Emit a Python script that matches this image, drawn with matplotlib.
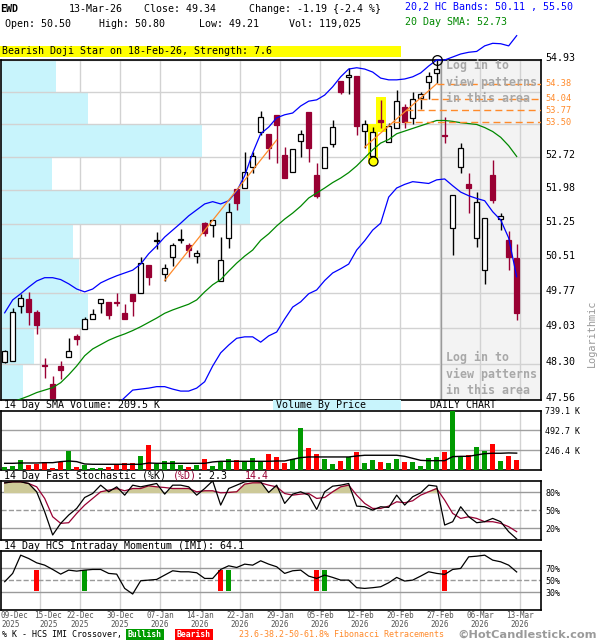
import numpy as np
import matplotlib
matplotlib.use("Agg")
import matplotlib.pyplot as plt
from matplotlib.patches import Rectangle
from matplotlib.ticker import NullLocator
from matplotlib.transforms import blended_transform_factory, ScaledTranslation

plt.rcParams['font.family'] = ['DejaVu Sans Mono', 'DejaVu Sans']

# ---------------- data ----------------
opens = [48.33, 48.36, 49.50, 49.65, 49.36, 48.27, 47.88, 48.25, 48.44, 48.87,
         49.01, 49.22, 49.56, 49.58, 49.57, 49.35, 49.75, 49.76, 50.36, 50.88,
         50.16, 50.54, 50.89, 50.79, 50.56, 51.26, 51.22, 50.01, 50.93, 52.00,
         52.02, 52.49, 53.27, 53.24, 53.67, 52.76, 52.39, 53.08, 53.74, 52.32,
         52.47, 53.00, 54.45, 54.53, 54.55, 53.30, 52.75, 53.55, 53.05, 53.38,
         53.85, 53.59, 54.05, 54.43, 54.62, 53.21, 51.16, 52.49, 52.12, 50.93,
         50.26, 52.32, 51.35, 50.90, 50.50]
highs = [48.58, 49.45, 49.74, 49.79, 49.41, 48.41, 48.05, 48.36, 48.82, 48.90,
         49.27, 49.43, 49.65, 49.58, 49.77, 49.53, 49.75, 50.54, 50.36, 51.06,
         50.38, 50.83, 51.14, 50.83, 50.68, 51.29, 51.33, 50.97, 51.70, 52.00,
         52.84, 52.84, 53.76, 53.24, 53.67, 52.95, 52.90, 53.33, 53.74, 52.58,
         52.94, 53.55, 54.45, 54.75, 54.55, 53.55, 53.40, 54.01, 53.48, 54.24,
         53.92, 54.19, 54.20, 54.66, 54.93, 53.63, 51.87, 53.03, 52.36, 51.95,
         51.37, 52.65, 51.48, 51.08, 50.80]
lows = [48.31, 48.35, 49.35, 49.10, 48.90, 48.00, 47.60, 47.98, 48.44, 48.68,
        49.01, 49.22, 49.35, 49.22, 49.50, 49.22, 49.29, 49.76, 49.94, 50.70,
        50.03, 50.33, 50.83, 50.53, 50.40, 50.98, 50.96, 50.01, 50.72, 51.55,
        52.02, 52.36, 53.21, 52.68, 52.59, 52.26, 52.39, 52.71, 52.61, 51.80,
        52.47, 52.94, 54.14, 54.14, 53.21, 52.91, 52.62, 53.36, 53.05, 53.38,
        53.37, 53.46, 53.79, 54.04, 54.39, 53.03, 50.57, 52.37, 51.48, 50.75,
        49.95, 51.70, 51.12, 50.26, 49.21]
closes = [48.56, 49.36, 49.67, 49.37, 49.10, 48.24, 47.61, 48.17, 48.56, 48.80,
          49.22, 49.33, 49.65, 49.31, 49.55, 49.22, 49.60, 50.40, 50.11, 50.89,
          50.29, 50.79, 50.91, 50.68, 50.61, 51.05, 51.32, 50.47, 51.51, 51.70,
          52.38, 52.73, 53.63, 52.93, 53.44, 52.26, 52.90, 53.23, 52.93, 51.86,
          52.94, 53.39, 54.18, 54.58, 53.42, 53.46, 53.29, 53.50, 53.41, 53.99,
          53.51, 54.03, 54.15, 54.57, 54.72, 53.18, 51.87, 52.93, 52.04, 51.73,
          51.37, 51.76, 51.42, 50.53, 49.34]

upper_band = [49.35, 49.62, 49.75, 49.89, 50.02, 50.09, 50.09, 50.05, 49.96, 49.85,
              49.79, 49.85, 49.98, 50.06, 50.13, 50.19, 50.25, 50.38, 50.60, 50.77,
              50.96, 51.11, 51.26, 51.42, 51.55, 51.68, 51.73, 51.68, 51.75, 51.96,
              52.30, 52.81, 53.24, 53.39, 53.60, 53.67, 53.71, 53.87, 53.98, 54.01,
              54.12, 54.31, 54.54, 54.72, 54.75, 54.72, 54.65, 54.51, 54.47, 54.47,
              54.49, 54.54, 54.63, 54.79, 54.93, 54.93, 55.00, 55.07, 55.11, 55.13,
              55.26, 55.32, 55.31, 55.26, 55.50]
lower_start = 14
lower_band = [47.45, 47.61, 47.76, 47.78, 47.80, 47.83, 47.83, 47.78, 47.74, 47.74,
              47.80, 47.93, 48.25, 48.52, 48.68, 48.82, 48.85, 48.85, 48.74, 48.87,
              48.95, 49.22, 49.47, 49.58, 49.75, 49.83, 50.03, 50.19, 50.28, 50.38,
              50.68, 50.88, 51.11, 51.26, 51.83, 52.03, 52.11, 52.17, 52.15, 52.13,
              52.21, 52.23, 52.08, 51.94, 51.86, 51.80, 51.75, 51.51, 51.33, 50.94,
              50.11]
sma20 = [47.46, 47.52, 47.58, 47.64, 47.71, 47.76, 47.81, 47.91, 48.07, 48.25,
         48.46, 48.60, 48.69, 48.78, 48.85, 48.91, 48.98, 49.06, 49.15, 49.24,
         49.34, 49.41, 49.47, 49.53, 49.62, 49.79, 49.94, 50.05, 50.23, 50.40,
         50.55, 50.68, 50.89, 51.03, 51.20, 51.35, 51.48, 51.63, 51.81, 51.92,
         52.03, 52.15, 52.25, 52.37, 52.52, 52.70, 52.88, 53.03, 53.11, 53.24,
         53.30, 53.36, 53.42, 53.48, 53.54, 53.54, 53.52, 53.49, 53.47, 53.45,
         53.38, 53.29, 53.16, 52.97, 52.73]

# volume in thousands
volumes = [37, 54, 125, 62, 75, 95, 29, 95, 237, 42,
           62, 29, 29, 42, 71, 91, 91, 174, 311, 75,
           112, 112, 62, 42, 62, 137, 50, 104, 137, 125,
           104, 154, 112, 199, 166, 91, 137, 527, 278, 199,
           137, 75, 112, 166, 224, 87, 125, 100, 87, 137,
           100, 100, 50, 154, 158, 224, 739, 166, 187, 286,
           237, 324, 112, 174, 119]
vol_sma = [83, 83, 87, 87, 87, 91, 91, 104, 112, 104,
           75, 71, 71, 71, 71, 71, 71, 71, 87, 83,
           83, 83, 83, 83, 83, 83, 100, 108, 108, 108,
           108, 108, 108, 108, 112, 112, 133, 154, 162, 162,
           162, 162, 162, 162, 174, 183, 183, 183, 183, 183,
           170, 145, 120, 116, 116, 116, 166, 170, 170, 187,
           203, 208, 208, 212, 209.5]

stoch_k = [96, 97.8, 97.8, 95, 81, 47.8, 8.9, 28.3, 42.2, 53.3,
           71.6, 78.3, 92.2, 81.1, 89.4, 75.5, 92.2, 89.4, 92.2, 95,
           77.2, 92.2, 92.2, 89.4, 75.5, 86.6, 99.4, 58.9, 86.6, 92.2,
           97.8, 99.4, 97.8, 80, 92.2, 61.7, 77.2, 81.1, 75.5, 51.6,
           81.1, 90.5, 92.2, 95, 57.2, 56.1, 50.5, 56.1, 55, 75.5,
           58.9, 72.8, 79.4, 92.2, 90.5, 25.5, 31.1, 56.1, 39.4, 29.4,
           31.1, 36.6, 31.1, 14.4, 2.3]
stoch_d = [96, 97.8, 97.8, 95, 89.4, 70, 39.4, 28.3, 29.4, 45,
           58.9, 70, 81.1, 83.9, 86.6, 82.8, 86.6, 86.6, 91.1, 89.4,
           88.3, 86.6, 86.6, 86.6, 81.1, 82.8, 82.8, 79.4, 80, 81.1,
           93.9, 96.1, 96.1, 92.2, 89.4, 78.3, 75.5, 77.2, 78.3, 70,
           71.6, 81.1, 89.4, 92.2, 75.5, 61.7, 53.3, 53.3, 57.2, 64.4,
           62.8, 66.1, 75.5, 81.1, 86.6, 67.2, 45, 36.6, 39.4, 36.6,
           31.1, 31.1, 28.3, 22.8, 14.4]
imi = [47.8, 61.7, 92.2, 86.6, 79.4, 75.5, 68.3, 60.5, 67.2, 65.5,
       67.2, 68.3, 68.3, 61.7, 60.5, 36.6, 27.2, 49.4, 50.5, 51.6,
       58.9, 66.1, 64.4, 64.4, 62.8, 53.3, 53.3, 68.3, 74.4, 71.6,
       77.2, 75.5, 82.8, 77.2, 72.8, 61.7, 66.1, 67.2, 57.2, 53.3,
       58.9, 55, 50.5, 50.5, 37.8, 36.6, 37.8, 39.4, 46.1, 55,
       48.9, 50.5, 57.2, 64.4, 61.7, 60, 68.3, 70, 89.4, 90.5,
       92.2, 83.9, 81.1, 75.5, 64.1]
cross_bear = [4, 27, 39, 55]
cross_bull = [10, 28, 40]

price_ticks = [47.56, 48.30, 49.03, 49.77, 50.51, 51.25, 51.98, 52.72, 53.46, 54.19, 54.93]
price_labels = ['47.56', '48.30', '49.03', '49.77', '50.51', '51.25', '51.98', '52.72', '', '', '54.93']
# volume by price per bin (bottom bin first), thousands
vbp = [22, 33, 87, 78, 72, 249, 51, 201, 87, 55]

fib_levels = [54.38, 54.04, 53.77, 53.50]
trend_lines = [((20, 50.03), (34, 53.10)), ((45, 52.94), (54, 54.38))]
pattern_idx = [46, 47]
swing_low = 46
swing_high = 54

tick_idx = [0, 4, 9, 14, 19, 24, 29, 34, 39, 44, 49, 54, 59, 64]
tick_day = ['09-Dec', '15-Dec', '22-Dec', '30-Dec', '07-Jan', '14-Jan', '22-Jan',
            '29-Jan', '05-Feb', '12-Feb', '20-Feb', '27-Feb', '06-Mar', '13-Mar']
tick_year = ['2025'] * 4 + ['2026'] * 10

# ---------------- layout ----------------
W, H = 600, 640
fig = plt.figure(figsize=(W / 100, H / 100), dpi=100)

def rect(l, t, r, b):
    return [l / W, 1 - b / H, (r - l) / W, (b - t) / H]

def ftext(px, py, s, **kw):
    kw.setdefault('va', 'center')
    kw.setdefault('fontsize', 7.2)
    return fig.text(px / W, 1 - py / H, s, **kw)

n = len(closes)
x = np.arange(n)
o, h, l, c = map(np.array, (opens, highs, lows, closes))
up = c >= o
XL = (-0.46, 67.04)
grid_x = [i + 0.41 for i in tick_idx[1:]]
GRID = '#d2d2d2'
BEAR = '#990033'
ORANGE = '#ff8a2a'

def base(ax):
    ax.set_xlim(*XL)
    for gx in grid_x:
        ax.axvline(gx, color=GRID, lw=1, zorder=1)
    for s in ax.spines.values():
        s.set_linewidth(1.2)
    ax.tick_params(axis='x', bottom=False, labelbottom=False)
    ax.yaxis.tick_right()
    ax.tick_params(axis='y', length=0, pad=3)

# ---------------- main price panel ----------------
ax = fig.add_axes(rect(1, 60, 541, 400))
ax.set_yscale('log')
ax.set_ylim(price_ticks[0], price_ticks[-1])
base(ax)
ax.axvspan(54.5, XL[1], color='#f3f3f3', zorder=0)
ax.axvline(54.5, color='#9a9a9a', lw=1, zorder=2.1)

trans = blended_transform_factory(ax.transAxes, ax.transData)
vmax = max(vbp)
for lo, hi, v in zip(price_ticks[:-1], price_ticks[1:], vbp):
    ax.add_patch(Rectangle((0, lo), v / vmax * 0.461, hi - lo, transform=trans,
                           facecolor='#c8f4fc', edgecolor='none', zorder=1.5))
for p in price_ticks:
    ax.axhline(p, color=GRID, lw=1, zorder=2)

ax.set_yticks(price_ticks)
ax.set_yticklabels(price_labels, fontsize=7.2)
ax.yaxis.set_minor_locator(NullLocator())
for lab in ax.get_yticklabels():
    lab.set_transform(lab.get_transform() + ScaledTranslation(0, 3 / 100, fig.dpi_scale_trans))

# pattern highlight
for i in pattern_idx:
    ax.add_patch(Rectangle((i - 0.62, l[i] * 0.9987), 1.24, h[i] * 1.0013 - l[i] * 0.9987,
                           facecolor='#ffff00', edgecolor='none', zorder=2.5))

# candles
ax.vlines(x[up], l[up], h[up], color='black', lw=1, zorder=3)
ax.vlines(x[~up], l[~up], h[~up], color=BEAR, lw=1, zorder=3)
blo, bhi = np.minimum(o, c), np.maximum(o, c)
ax.bar(x[up], bhi[up] - blo[up], bottom=blo[up], width=0.7, facecolor='white',
       edgecolor='black', lw=0.9, zorder=4)
ax.bar(x[~up], bhi[~up] - blo[~up], bottom=blo[~up], width=0.7, facecolor=BEAR,
       edgecolor=BEAR, lw=0.9, zorder=4)

# bands
ax.plot(x, sma20, color='#008800', lw=0.9, zorder=5)
ax.plot(x[lower_start:], lower_band, color='#0000ff', lw=0.9, zorder=5)
ax.plot(x, upper_band, color='#0000ff', lw=0.9, zorder=5, clip_on=False)

# trend lines and fibonacci levels
for (x0, p0), (x1, p1) in trend_lines:
    ax.plot([x0, x1], [p0, p1], color=ORANGE, lw=0.9, zorder=5.5)
(x0, p0), (x1, p1) = trend_lines[-1]
for lvl in fib_levels:
    t = (np.log(lvl) - np.log(p0)) / (np.log(p1) - np.log(p0))
    xs = x0 + t * (x1 - x0)
    ax.plot([xs, XL[1]], [lvl, lvl], color=ORANGE, lw=1, ls=(0, (5, 3)), zorder=5.5)
    ax.annotate(f'{lvl:.2f}', xy=(1, lvl), xycoords=trans, xytext=(3, 0),
                textcoords='offset points', va='center', ha='left', color=ORANGE,
                fontsize=6.2, annotation_clip=False)

ax.plot(swing_low, l[swing_low], 'o', ms=6.5, mfc='#ffff00', mec='black', mew=0.9, zorder=6)
ax.plot(swing_high, h[swing_high], 'o', ms=7, mfc='none', mec='black', mew=0.9, zorder=6,
        clip_on=False)

ftext(446, 82, 'Log in to\nview patterns\nin this area', fontsize=8.4, weight='bold',
      color='#a8a8a8', linespacing=1.3)
ftext(446, 374, 'Log in to\nview patterns\nin this area', fontsize=8.4, weight='bold',
      color='#a8a8a8', linespacing=1.3)
ftext(592, 333, 'Logarithmic', rotation=90, color='#999999', fontsize=7.4, ha='center')

# ---------------- volume panel ----------------
axv = fig.add_axes(rect(1, 410.5, 541, 470))
axv.set_ylim(0, 739.1)
base(axv)
for v in (246.4, 492.7):
    axv.axhline(v, color='#a0a0a0', lw=1, zorder=1)
vcol = ['#009a00' if u else '#ff0000' for u in up]
axv.bar(x, volumes, width=0.7, color=vcol, zorder=3)
axv.plot(x, vol_sma, color='black', lw=1, zorder=4)
axv.set_yticks([246.4, 492.7, 739.1])
axv.set_yticklabels(['246.4 K', '492.7 K', '739.1 K'], fontsize=6)

# ---------------- stochastic panel ----------------
axs = fig.add_axes(rect(1, 480.5, 541, 540.3))
axs.set_ylim(0, 100)
base(axs)
for v, ls in ((80, '-'), (50, '--'), (20, '-')):
    axs.axhline(v, color='#9a9a9a', lw=1, ls=ls, zorder=1)
kk, dd = np.array(stoch_k), np.array(stoch_d)
mn = np.minimum(kk, dd)
axs.fill_between(x, 80, mn, where=mn > 80, interpolate=True, color='#cdc998', zorder=2)
axs.plot(x, stoch_d, color=BEAR, lw=0.9, zorder=3)
axs.plot(x, stoch_k, color='black', lw=0.9, zorder=4)
axs.set_yticks([20, 50, 80])
axs.set_yticklabels(['20%', '50%', '80%'], fontsize=6)

# ---------------- IMI panel ----------------
axi = fig.add_axes(rect(1, 550.5, 541, 610.3))
axi.set_ylim(0, 100)
base(axi)
for v, ls in ((70, '-'), (50, '--'), (30, '-')):
    axi.axhline(v, color='#9a9a9a', lw=1, ls=ls, zorder=1)
axi.bar(cross_bear, 34, bottom=33, width=0.7, color='#ff0000', zorder=2)
axi.bar(cross_bull, 34, bottom=33, width=0.7, color='#009a00', zorder=2)
axi.plot(x, imi, color='black', lw=0.9, zorder=3)
axi.set_yticks([30, 50, 70])
axi.set_yticklabels(['30%', '50%', '70%'], fontsize=6)

for k, (i, d, y) in enumerate(zip(tick_idx, tick_day, tick_year)):
    pos = XL[0] if k == 0 else i + 0.41
    ha = 'left' if k == 0 else 'center'
    dx = 6 if k == 1 else 0
    for s, dy in ((d, -4.1), (y, -10.2)):
        axi.annotate(s, xy=(pos, 0), xycoords=('data', 'axes fraction'),
                     xytext=(dx, dy), textcoords='offset points', va='center', ha=ha,
                     fontsize=5.5, color='#555555', annotation_clip=False)

# ---------------- header & labels ----------------
ftext(0, 9, 'EWD', weight='bold')
ftext(69, 9, '13-Mar-26')
ftext(144, 9, 'Close: 49.34')
ftext(249, 9, 'Change: -1.19 {-2.4 %}')
ftext(5, 24, 'Open: 50.50')
ftext(99, 24, 'High: 50.80')
ftext(199, 24, 'Low: 49.21')
ftext(289, 24, 'Vol: 119,025')
ftext(405, 7, '20,2 HC Bands: 50.11 , 55.50', color='#0000ff')
ftext(405, 22, '20 Day SMA: 52.73', color='#008800')
fig.patches.append(Rectangle((0, 1 - 57 / H), 400.7 / W, 11 / H, transform=fig.transFigure,
                             facecolor='#ffff00', edgecolor='none'))
ftext(2, 51.5, 'Bearish Doji Star on 18-Feb-26, Strength: 7.6')

ftext(4, 405, '14 Day SMA Volume: 209.5 K')
fig.patches.append(Rectangle((273 / W, 1 - 410 / H), 128 / W, 10 / H, transform=fig.transFigure,
                             facecolor='#c8f4fc', edgecolor='none'))
ftext(276, 405, 'Volume By Price')
ftext(430, 405, 'DAILY CHART')

cw = 6.02
ftext(4, 476, '14 Day Fast Stochastic (%K)')
ftext(4 + 28 * cw, 476, '(%D)', color=BEAR)
ftext(4 + 32 * cw, 476, ': 2.3')
ftext(4 + 40 * cw, 476, '14.4', color=BEAR)
ftext(4, 546, '14 Day HCS Intraday Momentum (IMI): 64.1')

ftext(2, 634.5, '% K - HCS IMI Crossover,', fontsize=6)
fig.patches.append(Rectangle((126 / W, 1 - 639.5 / H), 38 / W, 10.5 / H, transform=fig.transFigure,
                             facecolor='#009a00', edgecolor='none'))
ftext(145, 634.5, 'Bullish', fontsize=5.8, color='white', weight='bold', ha='center')
fig.patches.append(Rectangle((175 / W, 1 - 639.5 / H), 38 / W, 10.5 / H, transform=fig.transFigure,
                             facecolor='#ff0000', edgecolor='none'))
ftext(194, 634.5, 'Bearish', fontsize=5.8, color='white', weight='bold', ha='center')
ftext(239, 634.5, '23.6-38.2-50-61.8% Fibonacci Retracements', fontsize=6, color=ORANGE)
ftext(597, 634.5, '\u00a9HotCandlestick.com', fontsize=8.2, weight='bold', color='#9a9a9a',
      ha='right', family='DejaVu Sans')

fig.savefig('out.png', dpi=100)
